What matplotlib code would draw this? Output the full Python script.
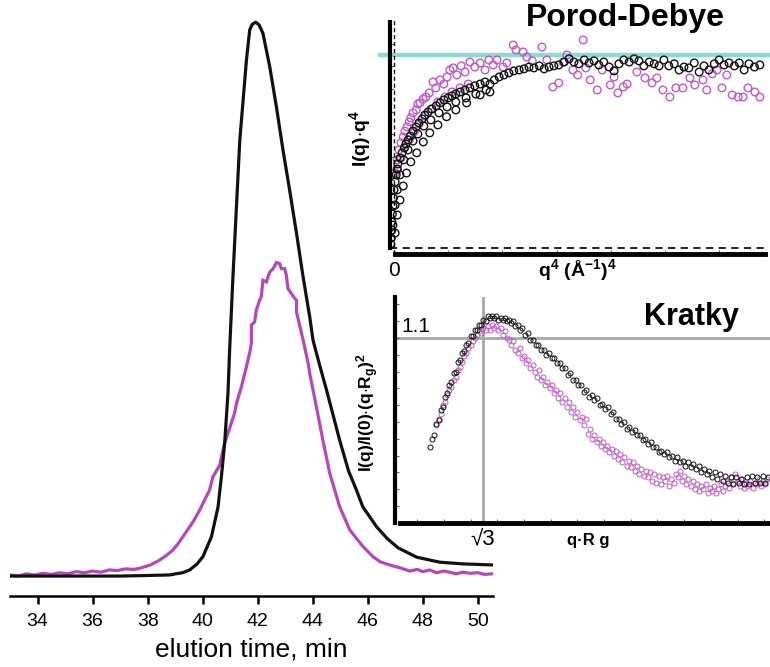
import matplotlib.pyplot as plt
import numpy as np

plt.rcParams['font.family'] = ['Liberation Sans', 'DejaVu Sans']
plt.rcParams['mathtext.fontset'] = 'custom'
plt.rcParams['mathtext.rm'] = 'Liberation Sans'
plt.rcParams['mathtext.bf'] = 'Liberation Sans:bold'
plt.rcParams['mathtext.it'] = 'Liberation Sans:italic'

# ---- elution profiles (normalised intensity) ----
black_t = [33.0, 37.0, 38.0, 38.8, 39.02, 39.27, 39.53, 39.8, 40.01, 40.32, 40.56, 40.68,
           40.80, 40.92, 40.98, 41.09, 41.24, 41.35, 41.47, 41.59, 41.71, 41.8, 41.93,
           42.05, 42.19, 42.44, 42.68, 42.92, 43.16, 43.41, 43.65, 43.89, 44.01, 44.25,
           44.5, 44.98, 45.3, 45.59, 45.82, 46.32, 46.7, 47.1, 47.78, 48.62, 49.45, 50.55]
black_y = [0.0, 0.0, 0.001, 0.002, 0.004, 0.006, 0.011, 0.022, 0.035, 0.071, 0.125, 0.179,
           0.240, 0.330, 0.408, 0.529, 0.679, 0.787, 0.859, 0.931, 0.986, 0.996, 1.0,
           0.995, 0.980, 0.919, 0.847, 0.769, 0.697, 0.619, 0.540, 0.468, 0.426, 0.381,
           0.336, 0.245, 0.190, 0.155, 0.125, 0.089, 0.068, 0.051, 0.034, 0.025, 0.022,
           0.020]

mag_t = [33.0, 33.3, 33.6, 33.9, 34.2, 34.5, 34.8, 35.1, 35.4, 35.7, 36.0, 36.3, 36.6,
         36.9, 37.2, 37.5, 37.71, 38.1, 38.44, 38.7, 38.92, 39.1, 39.28, 39.53, 39.7,
         39.89, 40.05, 40.25, 40.37, 40.5, 40.62, 40.68, 40.80, 40.98, 41.16, 41.23,
         41.41, 41.59, 41.73, 41.77, 41.77, 41.89, 41.95, 42.07, 42.13, 42.19, 42.32,
         42.37, 42.44, 42.56, 42.68, 42.80, 42.86, 42.98, 43.04, 43.10, 43.35, 43.41,
         43.41, 43.65, 43.83, 43.89, 44.13, 44.37, 44.62, 44.98, 45.35, 45.83, 46.19,
         46.44, 46.8, 47.16, 47.53, 47.8, 48.0, 48.25, 48.5, 48.75, 48.98, 49.2, 49.45,
         49.71, 50.0, 50.25, 50.51]
mag_y = [0.002, 0.000, 0.004, 0.002, 0.005, 0.003, 0.006, 0.004, 0.008, 0.006, 0.009,
         0.007, 0.011, 0.010, 0.013, 0.012, 0.014, 0.020, 0.029, 0.038, 0.047, 0.058,
         0.071, 0.089, 0.102, 0.119, 0.135, 0.155, 0.179, 0.190, 0.200, 0.215, 0.240,
         0.267, 0.294, 0.312, 0.342, 0.378, 0.408, 0.421, 0.453, 0.459, 0.480, 0.498,
         0.504, 0.534, 0.531, 0.540, 0.549, 0.555, 0.566, 0.564, 0.555, 0.555, 0.543,
         0.519, 0.501, 0.498, 0.477, 0.426, 0.385, 0.366, 0.306, 0.245, 0.185, 0.125,
         0.083, 0.053, 0.035, 0.026, 0.020, 0.015, 0.009, 0.012, 0.008, 0.011, 0.006,
         0.009, 0.007, 0.004, 0.007, 0.005, 0.006, 0.003, 0.004]

# ---- Porod-Debye inset (q^4 vs I*q^4, arbitrary units) ----
pd_black_x = [-0.06, -0.05, -0.04, -0.04, -0.03, -0.02, -0.01, 0.0, 0.02, 0.04, 0.06, 0.07,
              0.11, 0.15, 0.19, 0.22, 0.26, 0.30, 0.35, 0.41, 0.46, 0.52, 0.57, 0.63, 0.70,
              0.78, 0.85, 0.92, 1.00, 1.07, 1.14, 1.22, 1.31, 1.40, 1.49, 1.59, 1.68, 1.77,
              1.85, 1.94, 2.03, 2.12, 2.21, 2.31, 2.40, 2.49, 2.58, 2.68, 2.77, 2.86, 2.95,
              3.04, 3.14, 3.23, 3.32, 3.41, 3.51, 3.60, 3.69, 3.78, 3.87, 3.97, 4.06, 4.15,
              4.24, 4.34, 4.43, 4.52, 4.61, 4.71, 4.80, 4.89, 4.98, 5.07, 5.17, 5.26, 5.35,
              5.44, 5.54, 5.63, 5.72, 5.81, 5.91, 6.00, 6.09, 6.18, 6.28, 6.37, 6.46, 6.55,
              6.65, 6.75,
              # lower / middle part of the dense low-q band
              0.02, 0.06, 0.11, 0.17, 0.23, 0.31, 0.42, 0.54, 0.66, 0.81, 0.97, 1.14, 1.34,
              1.59, 1.77, -0.02, 0.02, 0.06, 0.11, 0.18, 0.26, 0.35, 0.44, 0.55, 0.68, 0.83,
              0.98, 1.14, 1.33, 1.51, 1.70]
pd_black_y = [0.18, 0.44, 0.79, 1.15, 1.50, 1.85, 2.20, 2.56, 2.91, 3.22, 3.48, 3.70,
              3.96, 4.19, 4.41, 4.58, 4.76, 4.93, 5.15, 5.33, 5.51, 5.68, 5.86, 5.99, 6.12,
              6.26, 6.39, 6.52, 6.61, 6.70, 6.78, 6.87, 6.96, 7.05, 7.14, 7.22, 7.31, 7.22,
              7.40, 7.53, 7.62, 7.71, 7.80, 7.84, 7.89, 7.97, 7.93, 8.02, 7.89, 7.97, 8.02,
              8.06, 8.19, 8.33, 8.19, 8.11, 8.28, 8.15, 8.24, 8.06, 8.19, 7.97, 7.80, 8.11,
              8.28, 8.19, 8.33, 8.24, 8.02, 8.19, 8.11, 8.02, 8.28, 8.02, 8.11, 7.84, 7.97,
              7.93, 8.15, 7.75, 8.02, 7.84, 8.11, 8.28, 8.06, 8.15, 8.02, 8.15, 7.84, 8.11,
              7.97, 8.06,
              0.66, 1.45, 2.11, 2.73, 3.30, 3.79, 4.19, 4.67, 5.07, 5.42, 5.78, 6.08, 6.39,
              6.74, 6.87, 1.01, 1.89, 2.56, 3.22, 3.88, 4.32, 4.71, 5.02, 5.37, 5.64, 5.95,
              6.21, 6.43, 6.61, 6.78, 6.96]

pd_mag_x = [0.02, 0.06, 0.09, 0.13, 0.17, 0.20, 0.24, 0.28, 0.31, 0.35, 0.41, 0.44, 0.48,
            0.54, 0.59, 0.65, 0.72, 0.77, 0.85, 0.92, 0.98, 1.03, 1.09, 1.16, 1.24, 1.31,
            1.40, 1.49, 1.59, 1.68, 1.75, 1.83, 1.90, 2.01, 2.08, 2.20, 2.25, 2.38, 2.45,
            2.55, 2.73, 2.82, 2.93, 3.04, 3.12, 3.19, 3.30, 3.39, 3.49, 3.54, 3.62, 3.75,
            3.84, 3.99, 4.06, 4.13, 4.23, 4.30, 4.48, 4.63, 4.76, 4.85, 4.96, 5.09, 5.20,
            5.33, 5.46, 5.55, 5.70, 5.77, 5.87, 5.96, 6.05, 6.14, 6.24, 6.35, 6.44, 6.53,
            6.66, 6.75,
            0.06, 0.13, 0.20, 0.28, 0.37, 0.46, 0.57, 0.68, 0.81, 0.94, 1.07, 1.22, 1.37]
pd_mag_y = [3.30, 3.88, 4.32, 4.63, 4.89, 5.15, 5.33, 5.55, 5.73, 5.95, 6.08, 6.34, 6.39,
            6.56, 6.65, 6.83, 7.31, 7.05, 7.40, 7.22, 7.53, 7.84, 7.93, 7.62, 8.02, 7.75,
            8.19, 7.97, 8.15, 7.84, 8.28, 8.06, 8.28, 7.97, 8.15, 8.94, 8.72, 8.63, 8.41,
            8.24, 8.85, 8.28, 7.09, 7.27, 8.19, 8.50, 7.84, 7.62, 9.16, 7.93, 7.40, 6.96,
            7.84, 7.18, 7.53, 6.83, 7.09, 7.22, 7.75, 7.49, 7.27, 7.49, 6.96, 6.65, 7.05,
            7.05, 7.49, 7.18, 7.40, 6.96, 7.67, 7.84, 7.05, 7.62, 6.74, 6.65, 6.65, 7.05,
            6.87, 6.65,
            3.44, 3.96, 4.41, 4.76, 5.11, 5.46, 5.81, 6.12, 6.43, 6.65, 6.87, 7.05, 7.22]
pd_plateau = 8.5

# ---- dimensionless Kratky inset ----
kr_black_x = [0.74, 0.78, 0.82, 0.86, 0.90, 0.94, 0.98, 1.02, 1.06, 1.10, 1.14, 1.18, 1.22,
              1.26, 1.30, 1.34, 1.38, 1.42, 1.46, 1.50, 1.54, 1.58, 1.62, 1.66, 1.70, 1.74,
              1.78, 1.82, 1.86, 1.90, 1.94, 1.98, 2.02, 2.06, 2.10, 2.14, 2.18, 2.22, 2.26,
              2.30, 2.34, 2.38, 2.42, 2.47, 2.52, 2.57, 2.62, 2.67, 2.72, 2.77, 2.82, 2.87,
              2.92, 2.97, 3.02, 3.07, 3.12, 3.17, 3.22, 3.27, 3.32, 3.37, 3.42, 3.47, 3.52,
              3.57, 3.62, 3.67, 3.72, 3.77, 3.82, 3.87, 3.92, 3.97, 4.02, 4.07, 4.12, 4.17,
              4.22, 4.27, 4.32, 4.37, 4.42, 4.47, 4.52, 4.57, 4.62, 4.67, 4.72, 4.77, 4.82,
              4.87, 4.92, 4.97, 5.02, 5.07, 5.12, 5.17, 5.22, 5.27, 5.32, 5.37, 5.42, 5.47,
              5.52, 5.57, 5.62, 5.67, 5.72, 5.77, 5.82, 5.87, 5.92, 5.97, 6.02, 6.07, 6.12,
              6.17, 6.22, 6.27, 6.32, 6.37, 6.42, 6.47, 6.52, 6.57, 6.62, 6.67, 6.72, 6.77,
              6.82, 6.87, 6.92, 6.97, 7.02, 7.07]
kr_black_y = [0.45, 0.50, 0.52, 0.59, 0.61, 0.67, 0.69, 0.75, 0.77, 0.82, 0.84, 0.89, 0.90,
              0.96, 0.97, 1.01, 1.02, 1.06, 1.07, 1.11, 1.11, 1.15, 1.15, 1.18, 1.18, 1.21,
              1.20, 1.23, 1.22, 1.23, 1.22, 1.23, 1.21, 1.22, 1.21, 1.22, 1.20, 1.21, 1.19,
              1.20, 1.17, 1.18, 1.15, 1.16, 1.12, 1.13, 1.09, 1.09, 1.06, 1.06, 1.03, 1.03,
              1.00, 1.01, 0.98, 0.98, 0.95, 0.95, 0.92, 0.92, 0.88, 0.89, 0.85, 0.85, 0.82,
              0.82, 0.78, 0.79, 0.75, 0.76, 0.73, 0.74, 0.70, 0.71, 0.68, 0.69, 0.65, 0.66,
              0.62, 0.62, 0.59, 0.60, 0.56, 0.57, 0.54, 0.55, 0.52, 0.52, 0.49, 0.50, 0.47,
              0.48, 0.45, 0.45, 0.42, 0.43, 0.41, 0.42, 0.39, 0.40, 0.37, 0.39, 0.36, 0.37,
              0.34, 0.36, 0.33, 0.35, 0.32, 0.34, 0.30, 0.32, 0.29, 0.31, 0.27, 0.30, 0.26,
              0.29, 0.25, 0.28, 0.24, 0.27, 0.23, 0.27, 0.24, 0.26, 0.23, 0.27, 0.23, 0.28,
              0.24, 0.27, 0.24, 0.28, 0.24, 0.27]

kr_mag_x = [0.86, 0.90, 0.94, 0.98, 1.02, 1.06, 1.10, 1.14, 1.18, 1.22, 1.26, 1.30, 1.34,
            1.38, 1.42, 1.46, 1.50, 1.54, 1.58, 1.62, 1.66, 1.70, 1.74, 1.78, 1.82, 1.86,
            1.90, 1.94, 1.98, 2.02, 2.06, 2.10, 2.14, 2.18, 2.22, 2.26, 2.30, 2.34, 2.38,
            2.42, 2.46, 2.50, 2.54, 2.58, 2.62, 2.66, 2.70, 2.74, 2.78, 2.82, 2.86, 2.90,
            2.94, 2.98, 3.02, 3.06, 3.10, 3.14, 3.18, 3.22, 3.26, 3.30, 3.34, 3.38, 3.42,
            3.46, 3.50, 3.54, 3.58, 3.62, 3.66, 3.70, 3.74, 3.78, 3.82, 3.86, 3.90, 3.94,
            3.98, 4.02, 4.06, 4.10, 4.14, 4.18, 4.22, 4.26, 4.30, 4.34, 4.38, 4.42, 4.46,
            4.50, 4.54, 4.58, 4.62, 4.66, 4.70, 4.74, 4.78, 4.82, 4.86, 4.90, 4.94, 4.98,
            5.02, 5.06, 5.10, 5.14, 5.18, 5.22, 5.26, 5.30, 5.34, 5.38, 5.42, 5.46, 5.50,
            5.54, 5.58, 5.62, 5.66, 5.70, 5.74, 5.78, 5.82, 5.86, 5.90, 5.94, 5.98, 6.02,
            6.06, 6.10, 6.14, 6.18, 6.22, 6.26, 6.30, 6.34, 6.38, 6.42, 6.46, 6.50, 6.54,
            6.58, 6.62, 6.66, 6.70, 6.74, 6.78, 6.82, 6.86, 6.90, 6.94, 6.98, 7.02, 7.06]
kr_mag_y = [0.58, 0.62, 0.65, 0.70, 0.72, 0.76, 0.79, 0.81, 0.85, 0.87, 0.91, 0.93, 0.96,
            0.99, 1.01, 1.04, 1.06, 1.08, 1.10, 1.12, 1.14, 1.13, 1.16, 1.15, 1.17, 1.15,
            1.18, 1.16, 1.17, 1.15, 1.16, 1.12, 1.14, 1.10, 1.09, 1.06, 1.08, 1.03, 1.01,
            1.04, 0.98, 0.99, 0.95, 0.97, 0.92, 0.94, 0.90, 0.87, 0.91, 0.85, 0.87, 0.82,
            0.84, 0.80, 0.82, 0.77, 0.79, 0.74, 0.77, 0.72, 0.74, 0.69, 0.72, 0.66, 0.69,
            0.63, 0.66, 0.61, 0.63, 0.58, 0.62, 0.53, 0.56, 0.50, 0.52, 0.48, 0.50, 0.46,
            0.48, 0.44, 0.46, 0.42, 0.44, 0.40, 0.43, 0.38, 0.41, 0.36, 0.39, 0.34, 0.37,
            0.33, 0.36, 0.31, 0.34, 0.29, 0.32, 0.28, 0.31, 0.27, 0.30, 0.25, 0.29, 0.24,
            0.28, 0.23, 0.27, 0.25, 0.28, 0.22, 0.26, 0.24, 0.29, 0.27, 0.31, 0.25, 0.28,
            0.23, 0.26, 0.22, 0.25, 0.20, 0.23, 0.19, 0.22, 0.20, 0.23, 0.18, 0.21, 0.19,
            0.22, 0.18, 0.20, 0.23, 0.19, 0.22, 0.25, 0.21, 0.27, 0.24, 0.29, 0.25, 0.22,
            0.26, 0.21, 0.24, 0.22, 0.25, 0.21, 0.24, 0.23, 0.26, 0.22, 0.25, 0.23, 0.26]
kr_ref_x = np.sqrt(3)
kr_ref_y = 1.1

BLACK = '#111111'
MAG = '#b548b8'
MAG_PT = '#c259c6'
CYAN = '#8adcd0'
GRAY = '#a8a8a8'

W, H = 770, 667
fig = plt.figure(figsize=(W / 100, H / 100), dpi=100)

def px_box(x0, y0, x1, y1):
    return [x0 / W, 1 - y1 / H, (x1 - x0) / W, (y1 - y0) / H]

# main chromatogram
ax = fig.add_axes(px_box(10, 0, 493, 596))
ax.plot(mag_t, mag_y, color=MAG, lw=2.3, solid_joinstyle='miter')
ax.plot(black_t, black_y, color=BLACK, lw=2.3)
ax.set_xlim(33.0, 50.55)
ax.set_ylim(-0.036, 1.04)
for s in ['top', 'right', 'left']:
    ax.spines[s].set_visible(False)
ax.spines['bottom'].set_linewidth(1.8)
ax.set_yticks([])
ax.set_xticks(np.arange(34, 51, 2))
ax.tick_params(axis='x', length=6, width=1.8, labelsize=14, pad=6)
ax.set_xlabel('elution time, min', fontsize=19, labelpad=6)
ax.patch.set_alpha(0)

# Porod-Debye inset
ap = fig.add_axes(px_box(390, 20, 765, 254))
ap.scatter(pd_mag_x, pd_mag_y, s=30, facecolors='none', edgecolors=MAG_PT, linewidths=1.0)
ap.scatter(pd_black_x, pd_black_y, s=30, facecolors='none', edgecolors=BLACK, linewidths=1.0)
ap.axvline(0, color=BLACK, lw=1, ls=(0, (3, 2)))
ap.axhline(0, color=BLACK, lw=1.3, ls=(0, (4, 3)))
ap.plot([-0.26, 6.95], [pd_plateau, pd_plateau], color=CYAN, lw=3.2, clip_on=False, zorder=0)
ap.set_xlim(-0.074, 6.845)
ap.set_ylim(-0.264, 10.04)
ap.spines['top'].set_visible(False)
ap.spines['right'].set_visible(False)
ap.spines['left'].set_linewidth(3)
ap.spines['bottom'].set_linewidth(3.5)
ap.spines['left'].set_bounds(0, 9.96)
ap.spines['bottom'].set_bounds(0.02, 6.845)
ap.set_xticks(range(7))
ap.set_xticklabels(['0', '', '', '', '', '', ''])
ap.set_yticks(range(10))
ap.set_yticklabels([])
ap.tick_params(direction='in', length=3, width=0.8, color='#666666', labelsize=15, pad=5)
ap.patch.set_alpha(0)

fig.text(625 / W, 1 - 18 / H, 'Porod-Debye', fontsize=23, fontweight='bold',
         ha='center', va='center')
fig.text(360 / W, 1 - 138 / H, r'$\mathbf{I(q){\cdot}q^4}$', fontsize=14, rotation=90,
         ha='center', va='center')
fig.text(577 / W, 1 - 270 / H, r'$\mathbf{q^4\ (\AA^{-1})^4}$', fontsize=14,
         ha='center', va='center')

# Kratky inset
ak = fig.add_axes(px_box(395, 297, 770, 523))
ak.axvline(kr_ref_x, color=GRAY, lw=2, zorder=0)
ak.axhline(kr_ref_y, color=GRAY, lw=2, zorder=0)
ak.plot(kr_mag_x, kr_mag_y, 'o', ms=3.6, mfc='none', mec=MAG_PT, mew=0.7)
ak.plot(kr_black_x, kr_black_y, 'o', ms=3.6, mfc='none', mec=BLACK, mew=0.7)
ak.set_xlim(0.084, 7.107)
ak.set_ylim(-0.001, 1.344)
ak.spines['top'].set_visible(False)
ak.spines['right'].set_visible(False)
ak.spines['left'].set_linewidth(3)
ak.spines['bottom'].set_linewidth(3.5)
ak.spines['bottom'].set_bounds(0.178, 7.107)
ak.set_xticks(np.arange(0.5, 7.01, 0.5))
ak.set_yticks(np.arange(0.1, 1.31, 0.1))
ak.set_xticklabels([])
ak.set_yticklabels([])
ak.tick_params(direction='in', length=3, width=0.8, color='#666666')
ak.patch.set_alpha(0)
ak.text(0.48, 1.171, '1.1', fontsize=15, ha='center', va='center')
ak.text(kr_ref_x, -0.1, '√3', fontsize=16, ha='center', va='center', clip_on=False)
ak.text(5.63, 1.225, 'Kratky', fontsize=22, fontweight='bold', ha='center', va='center')

fig.text(368 / W, 1 - 413 / H, r'$\mathbf{I(q)/I(0){\cdot}(q{\cdot}R_g)^2}$', fontsize=12.5,
         rotation=90, ha='center', va='center')
fig.text(588 / W, 1 - 540 / H, 'q·R g', fontsize=12, fontweight='bold',
         ha='center', va='center')

fig.savefig('out.png', dpi=100)
